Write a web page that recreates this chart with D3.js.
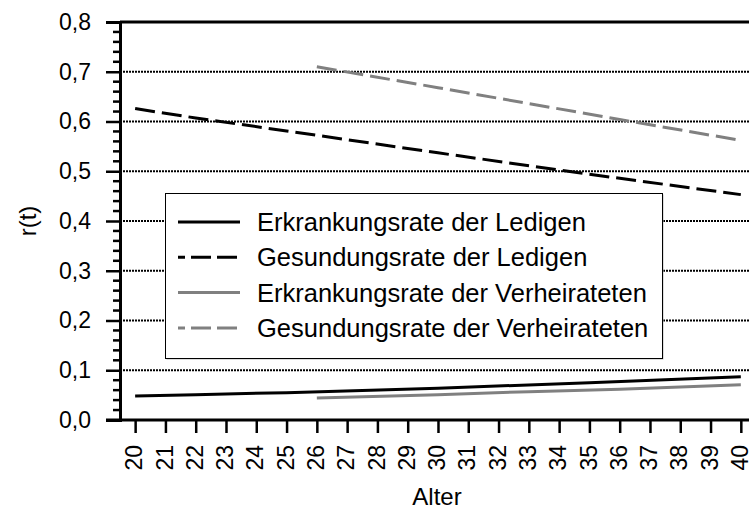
<!DOCTYPE html>
<html>
<head>
<meta charset="utf-8">
<script src="https://cdn.jsdelivr.net/npm/d3@7"></script>
<style>
  body { margin: 0; background: #fff; }
  text { font-family: "Liberation Sans", Arial, sans-serif; fill: #000; }
</style>
</head>
<body>
<script>
// values
var alterLedige = [20, 22, 25, 30, 35, 40]
var erkrankLedige = [0.048, 0.051, 0.055, 0.064, 0.075, 0.087]
var gesundLedige = [0.626, 0.607, 0.581, 0.537, 0.494, 0.453]

var alterVerh = [26, 30, 33, 36, 40]
var erkrankVerh = [0.044, 0.051, 0.057, 0.062, 0.071]
var gesundVerh = [0.710, 0.668, 0.636, 0.604, 0.562]

var xTicks = d3.range(20, 41)
var yTicks = [0, 0.1, 0.2, 0.3, 0.4, 0.5, 0.6, 0.7, 0.8]
var yLabels = ["0,0", "0,1", "0,2", "0,3", "0,4", "0,5", "0,6", "0,7", "0,8"]

var serien = [
  { name: "Erkrankungsrate der Ledigen", x: alterLedige, y: erkrankLedige, farbe: "#000", dash: null },
  { name: "Gesundungsrate der Ledigen", x: alterLedige, y: gesundLedige, farbe: "#000", dash: "20,7" },
  { name: "Erkrankungsrate der Verheirateten", x: alterVerh, y: erkrankVerh, farbe: "#808080", dash: null },
  { name: "Gesundungsrate der Verheirateten", x: alterVerh, y: gesundVerh, farbe: "#808080", dash: "20,7" }
]

var width = 749
var height = 509
var margin = { top: 22, bottom: 89, left: 120, right: 0 }

var svg = d3.select("body").append("svg")
  .attr("width", width)
  .attr("height", height)

var escalaX = d3.scaleLinear()
  .domain([19.5, 40.27])
  .range([margin.left, width - margin.right])

var escalaY = d3.scaleLinear()
  .domain([0, 0.8])
  .range([height - margin.bottom, margin.top])

// gridlines (dotted)
svg.append("g")
  .selectAll("line")
  .data(yTicks.slice(1, -1))
  .enter()
  .append("line")
  .attr("x1", margin.left)
  .attr("x2", width)
  .attr("y1", d => escalaY(d))
  .attr("y2", d => escalaY(d))
  .attr("stroke", "#000")
  .attr("stroke-width", 2)
  .attr("stroke-dasharray", "2,1")

// top border
svg.append("line")
  .attr("x1", margin.left)
  .attr("x2", width)
  .attr("y1", escalaY(0.8))
  .attr("y2", escalaY(0.8))
  .attr("stroke", "#000")
  .attr("stroke-width", 3)

// lines
var linea = d3.line()
  .x(d => escalaX(d[0]))
  .y(d => escalaY(d[1]))

svg.append("g")
  .selectAll("path")
  .data(serien)
  .enter()
  .append("path")
  .attr("d", s => linea(s.x.map((a, i) => [a, s.y[i]])))
  .attr("fill", "none")
  .attr("stroke", s => s.farbe)
  .attr("stroke-width", 3)
  .attr("stroke-dasharray", s => s.dash)

// y axis
var ejeY = d3.axisLeft(escalaY)
  .tickValues(yTicks)
  .tickFormat((d, i) => yLabels[i])
  .tickSize(14)
  .tickPadding(15)
var gY = svg.append("g")
  .attr("transform", "translate(" + margin.left + ",0)")
  .call(ejeY)
gY.select(".domain").attr("stroke-width", 3)
gY.selectAll(".tick line").attr("stroke-width", 2.5)
gY.selectAll("text").style("font-size", "23px").attr("font-family", null)

// minor ticks
var minor = d3.range(0, 0.8001, 0.02).filter(v => Math.abs(v * 10 - Math.round(v * 10)) > 0.01)
svg.append("g")
  .selectAll("line")
  .data(minor)
  .enter()
  .append("line")
  .attr("x1", margin.left - 7)
  .attr("x2", margin.left)
  .attr("y1", d => escalaY(d))
  .attr("y2", d => escalaY(d))
  .attr("stroke", "#000")
  .attr("stroke-width", 2.5)

// x axis
var ejeX = d3.axisBottom(escalaX)
  .tickValues(xTicks)
  .tickSize(13)
  .tickPadding(0)
var gX = svg.append("g")
  .attr("transform", "translate(0," + (height - margin.bottom) + ")")
  .call(ejeX)
gX.select(".domain").attr("stroke-width", 3).attr("d", "M" + (margin.left - 14) + ",0H" + width)
gX.selectAll(".tick line").attr("stroke-width", 2.5)
gX.selectAll("text")
  .style("font-size", "23px")
  .attr("font-family", null)
  .attr("transform", "rotate(-90)")
  .attr("text-anchor", "end")
  .attr("dy", "0.29em")
  .attr("x", -25)
  .attr("y", 0)

// axis titles
svg.append("text")
  .attr("transform", "translate(36,221) rotate(-90)")
  .attr("text-anchor", "middle")
  .style("font-size", "24px")
  .text("r(t)")

svg.append("text")
  .attr("x", 437)
  .attr("y", 505)
  .attr("text-anchor", "middle")
  .style("font-size", "24px")
  .text("Alter")

// legend
var leyenda = svg.append("g")
leyenda.append("rect")
  .attr("x", 166.5)
  .attr("y", 194.5)
  .attr("width", 497)
  .attr("height", 165)
  .attr("fill", "#bbb")
leyenda.append("rect")
  .attr("x", 165.5)
  .attr("y", 193.5)
  .attr("width", 497)
  .attr("height", 165)
  .attr("fill", "#fff")
  .attr("stroke", "#000")
  .attr("stroke-width", 1)

var fila = leyenda.selectAll(".fila")
  .data(serien)
  .enter()
  .append("g")
  .attr("transform", (d, i) => "translate(0," + (222 + i * 35.3) + ")")
fila.append("line")
  .attr("x1", 178)
  .attr("x2", 240)
  .attr("stroke", d => d.farbe)
  .attr("stroke-width", 3)
  .attr("stroke-dasharray", d => d.dash ? "20,6" : null)
  .attr("stroke-dashoffset", 13)
fila.append("text")
  .attr("x", 257)
  .attr("dy", "0.35em")
  .style("font-size", "25.5px")
  .text(d => d.name)
</script>
</body>
</html>
